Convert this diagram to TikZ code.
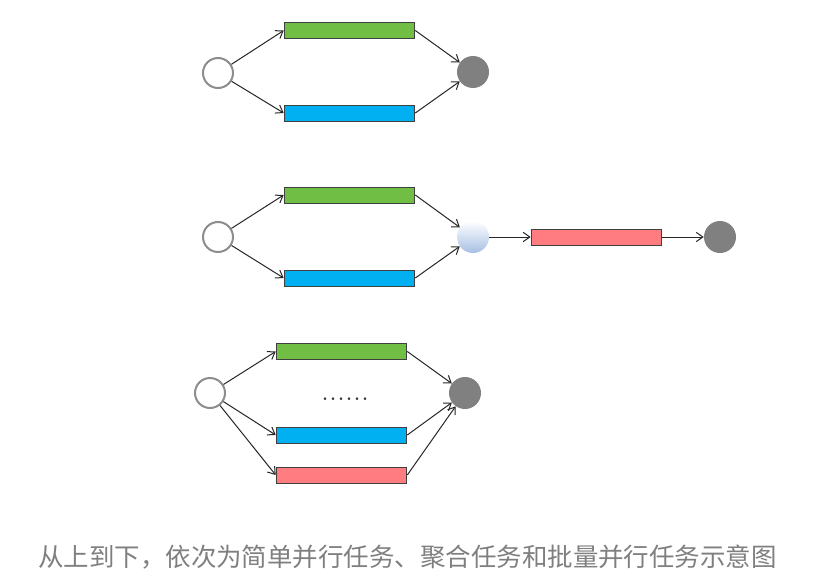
\documentclass[tikz,border=0pt]{standalone}
\usepackage{fontspec}
\newfontfamily\cjk{Noto Sans CJK SC}
\usetikzlibrary{arrows.meta}
\usetikzlibrary{shapes}

\definecolor{taskgreen}{HTML}{70BF44}
\definecolor{taskblue}{HTML}{00B0F0}
\definecolor{taskred}{HTML}{FF7C80}
\definecolor{endgray}{HTML}{808080}
\definecolor{joinblue}{HTML}{A6BFE3}
\definecolor{captiongray}{HTML}{7F7F7F}

\begin{document}
\begin{tikzpicture}[x = 0.75pt, y = -0.75pt]
\tikzstyle{startStyle} = [shape = circle, minimum size = 22.5pt, inner sep = 0pt, draw = endgray!90, line width = 1.5pt, fill = white]
\tikzstyle{endStyle} = [shape = circle, minimum size = 24pt, inner sep = 0pt, fill = endgray]
\tikzstyle{joinStyle} = [shape = circle, minimum size = 24pt, inner sep = 0pt, top color = white, bottom color = joinblue]
\tikzstyle{taskStyle} = [shape = rectangle, minimum width = 98pt, minimum height = 12pt, inner sep = 0pt, draw = black!75, line width = 0.7pt]
\tikzstyle{flowStyle} = [-{Straight Barb[length = 5pt, width = 7pt]}, draw = black!85, line width = 0.75pt]
\useasboundingbox (0,0) rectangle (840,582);
% simple parallel
\node[startStyle] (s1) at (218,73) {};
\node[taskStyle, fill = taskgreen] (g1) at (349.5,30.5) {};
\node[taskStyle, fill = taskblue] (b1) at (349.5,113) {};
\node[endStyle] (e1) at (473,72) {};
\draw[flowStyle] (s1) -- (g1.west);
\draw[flowStyle] (s1) -- (b1.west);
\draw[flowStyle] (g1.east) -- (e1);
\draw[flowStyle] (b1.east) -- (e1);
% aggregate
\node[startStyle] (s2) at (218,237) {};
\node[taskStyle, fill = taskgreen] (g2) at (349.5,195) {};
\node[taskStyle, fill = taskblue] (b2) at (349.5,278) {};
\node[joinStyle] (j2) at (473,237) {};
\node[taskStyle, fill = taskred] (r2) at (596.5,237) {};
\node[endStyle] (e2) at (720,237) {};
\draw[flowStyle] (s2) -- (g2.west);
\draw[flowStyle] (s2) -- (b2.west);
\draw[flowStyle] (g2.east) -- (j2);
\draw[flowStyle] (b2.east) -- (j2);
\draw[flowStyle] (j2) -- (r2);
\draw[flowStyle] (r2) -- (e2);
% batch parallel
\node[startStyle] (s3) at (210,393) {};
\node[taskStyle, fill = taskgreen] (g3) at (341.5,351.5) {};
\node[taskStyle, fill = taskblue] (b3) at (341.5,435) {};
\node[taskStyle, fill = taskred] (r3) at (341.5,475) {};
\node[endStyle] (e3) at (465,393) {};
\node[inner sep = 0pt, anchor = base, text = black!80] (dots) at (345,400) {\fontsize{24}{24}\selectfont ......};
\draw[flowStyle] (s3) -- (g3.west);
\draw[flowStyle] (s3) -- (b3.west);
\draw[flowStyle] (s3) -- (r3.west);
\draw[flowStyle] (g3.east) -- (e3);
\draw[flowStyle] (b3.east) -- (e3);
\draw[flowStyle] (r3.east) -- (e3);
% caption
\node[text = captiongray, inner sep = 0pt] (caption) at (407.5,557) {\cjk\fontsize{19.1}{22}\selectfont 从上到下，依次为简单并行任务、聚合任务和批量并行任务示意图};
\end{tikzpicture}
\end{document}
